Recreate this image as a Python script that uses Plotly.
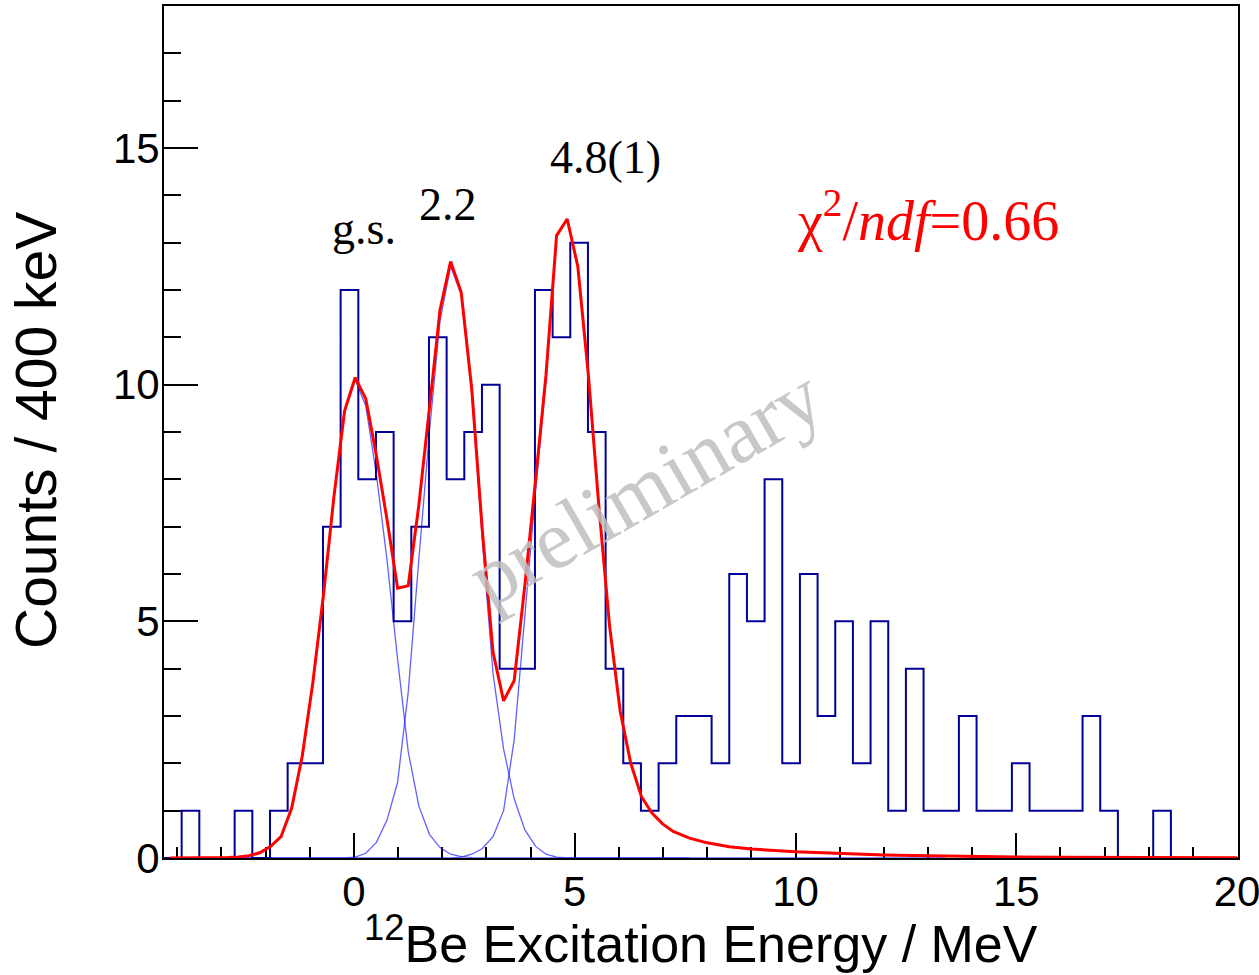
import plotly.graph_objects as go

# ---------------- data ----------------
bin_low = -4.3
bin_width = 0.4
counts = [0, 1, 0, 0, 1, 0, 1, 2, 2, 7,
          12, 8, 9, 5, 7, 11, 8, 9, 10, 4,
          4, 12, 11, 13, 9, 4, 2, 1, 2, 3,
          3, 2, 6, 5, 8, 2, 6, 3, 5, 2,
          5, 1, 4, 1, 1, 3, 1, 1, 2, 1,
          1, 1, 3, 1, 0, 0, 1, 0, 0, 0, 0]

# total fit (red)
fit_x = [-4.17, -3.09, -2.85, -2.61, -2.37, -2.13, -1.89, -1.65, -1.41, -1.17,
         -0.93, -0.69, -0.45, -0.21, 0.03, 0.27, 0.51, 0.75, 0.99, 1.23,
         1.47, 1.71, 1.95, 2.19, 2.43, 2.67, 2.91, 3.15, 3.39, 3.63,
         3.87, 4.11, 4.35, 4.59, 4.83, 5.07, 5.31, 5.55, 5.79, 6.03,
         6.27, 6.51, 6.75, 6.99, 7.23, 7.6, 8.0, 8.5, 9.0, 10.0,
         11.0, 12.0, 13.0, 14.0, 15.0, 16.0, 17.0, 18.0, 19.0, 20.0]
fit_y = [0, 0, 0.01, 0.02, 0.05, 0.11, 0.24, 0.45, 1.05, 2.15,
         3.7, 5.55, 7.65, 9.45, 10.15, 9.7, 8.5, 7.15, 5.7, 5.75,
         7.45, 9.5, 11.58, 12.6, 11.95, 9.9, 6.9, 4.35, 3.32, 3.75,
         5.75, 7.95, 10.2, 13.15, 13.5, 12.5, 10.2, 7.4, 4.9, 3.1,
         2.0, 1.3, 0.95, 0.72, 0.56, 0.42, 0.32, 0.24, 0.19, 0.13,
         0.09, 0.065, 0.045, 0.03, 0.022, 0.016, 0.012, 0.008, 0.005, 0.003]

# components (blue)
gs_x = [-4.17, -3.09, -2.85, -2.61, -2.37, -2.13, -1.89, -1.65, -1.41, -1.17,
        -0.93, -0.69, -0.45, -0.21, 0.03, 0.27, 0.51, 0.75, 0.99, 1.23,
        1.47, 1.71, 1.95, 2.19, 2.43, 2.67, 2.91, 7.6]
gs_y = [0, 0, 0.01, 0.02, 0.05, 0.11, 0.24, 0.45, 1.05, 2.15,
        3.7, 5.55, 7.65, 9.45, 10.1, 9.55, 8.1, 6.3, 4.2, 2.25,
        1.1, 0.5, 0.22, 0.08, 0.03, 0.01, 0, 0]

c2_x = [-4.17, -0.21, 0.03, 0.27, 0.51, 0.75, 0.99, 1.23, 1.47, 1.71,
        1.95, 2.19, 2.43, 2.67, 2.91, 3.15, 3.39, 3.63, 3.87, 4.11,
        4.35, 4.59, 4.83, 13.4]
c2_y = [0, 0, 0.02, 0.1, 0.33, 0.8, 1.6, 3.5, 6.3, 9.0,
        11.35, 12.5, 11.9, 9.8, 6.7, 3.9, 2.3, 1.25, 0.6, 0.25,
        0.08, 0.02, 0, 0]

c3_x = [-4.17, 2.19, 2.43, 2.67, 2.91, 3.15, 3.39, 3.63, 3.87, 4.11,
        4.35, 4.59, 4.83, 5.07, 5.31, 5.55, 5.79, 6.03, 6.27, 6.51,
        6.75, 6.99, 7.23, 7.6, 8.0, 8.5, 9.0, 10.0, 11.0, 12.0,
        13.0, 13.4]
c3_y = [0, 0, 0.02, 0.08, 0.2, 0.45, 1.0, 2.5, 5.1, 7.7,
        10.1, 13.13, 13.5, 12.5, 10.2, 7.4, 4.9, 3.1, 2.0, 1.3,
        0.95, 0.72, 0.56, 0.42, 0.32, 0.24, 0.19, 0.13, 0.09, 0.065,
        0.045, 0.04]

peak_labels = ["g.s.", "2.2", "4.8(1)"]
peak_label_x = [0.23, 2.13, 5.7]
peak_label_y = [13.3, 13.8, 14.8]
chi2_text = "χ<sup>2</sup>/<i>ndf</i>=0.66"

x_ticks = [0, 5, 10, 15, 20]
y_ticks = [0, 5, 10, 15]

# --------------- figure ---------------
edges = [bin_low + bin_width * i for i in range(len(counts) + 1)]
step_y = counts + [counts[-1]]

fig = go.Figure()
comp_color = "rgba(30,30,255,0.7)"
for cx, cy in [(gs_x, gs_y), (c2_x, c2_y), (c3_x, c3_y)]:
    fig.add_trace(go.Scatter(x=cx, y=cy, mode="lines",
                             line=dict(color=comp_color, width=1.3),
                             showlegend=False, hoverinfo="skip"))

fig.add_trace(go.Scatter(x=edges, y=step_y, mode="lines", line_shape="hv",
                         line=dict(color="#000099", width=2),
                         showlegend=False))

fig.add_trace(go.Scatter(x=fit_x, y=fit_y, mode="lines",
                         line=dict(color="#ff0000", width=3),
                         showlegend=False))

serif = "Liberation Serif, Times New Roman, serif"
sans = "Liberation Sans, Arial, Helvetica, sans-serif"

annotations = []
for t, xx, yy in zip(peak_labels, peak_label_x, peak_label_y):
    annotations.append(dict(x=xx, y=yy, xref="x", yref="y", text=t,
                            xanchor="center", yanchor="middle",
                            showarrow=False, font=dict(family=serif, size=46, color="black")))
annotations.append(dict(x=12.99, y=13.55, xref="x", yref="y", text=chi2_text,
                        xanchor="center", yanchor="middle",
                        showarrow=False, font=dict(family=serif, size=56, color="#ff0000")))
annotations.append(dict(x=6.6, y=7.85, xref="x", yref="y", text="preliminary",
                        xanchor="center", yanchor="middle",
                        textangle=-30, showarrow=False,
                        font=dict(family=serif, size=84, color="rgba(190,190,190,0.85)")))
annotations.append(dict(x=0.5, y=-0.096, xref="paper", yref="paper",
                        xanchor="center", yanchor="middle",
                        text="<sup>12</sup>Be Excitation Energy / MeV",
                        showarrow=False, font=dict(family=sans, size=52, color="black")))
annotations.append(dict(x=-0.1185, y=0.502, xref="paper", yref="paper",
                        xanchor="center", yanchor="middle",
                        text="Counts / 400 keV", textangle=-90,
                        showarrow=False, font=dict(family=sans, size=57, color="black")))

fig.update_layout(
    width=1259, height=975,
    margin=dict(l=164, r=21, t=6, b=117, autoexpand=False),
    paper_bgcolor="white", plot_bgcolor="white",
    annotations=annotations,
    xaxis=dict(range=[-4.3, 20.02], showgrid=False, zeroline=False,
               showline=True, linecolor="black", linewidth=2, mirror=True,
               ticks="inside", ticklen=25, tickwidth=2, tickcolor="black",
               tickvals=x_ticks, ticktext=[str(v) for v in x_ticks],
               tickfont=dict(family=sans, size=42, color="black"),
               ticklabeloverflow="allow", ticklabelstandoff=-4,
               automargin=False,
               minor=dict(ticks="inside", ticklen=11, tickwidth=2, dtick=1,
                          tick0=0, tickcolor="black", showgrid=False),
               layer="below traces"),
    yaxis=dict(range=[0, 18], showgrid=False, zeroline=False,
               showline=True, linecolor="black", linewidth=2, mirror=True,
               ticks="inside", ticklen=34, tickwidth=2, tickcolor="black",
               tickvals=y_ticks, ticktext=[str(v) for v in y_ticks],
               tickfont=dict(family=sans, size=42, color="black"),
               ticklabeloverflow="allow", ticklabelstandoff=-6,
               automargin=False,
               minor=dict(ticks="inside", ticklen=17, tickwidth=2, dtick=1,
                          tick0=0, tickcolor="black", showgrid=False),
               layer="below traces"),
)

fig.write_html("out.html")
